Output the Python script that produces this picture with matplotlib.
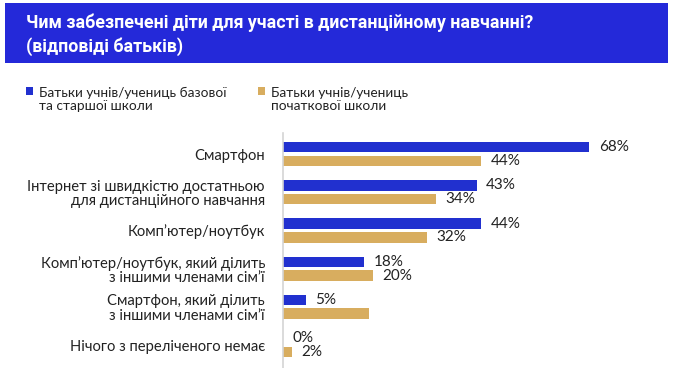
import matplotlib
matplotlib.use('Agg')
import matplotlib.pyplot as plt
from matplotlib.patches import Rectangle
import numpy as np

# data
categories = ['Смартфон',
              'Інтернет зі швидкістю достатньою\nдля дистанційного навчання',
              'Комп’ютер/ноутбук',
              'Комп’ютер/ноутбук, який ділить\nз іншими членами сім’ї',
              'Смартфон, який ділить\nз іншими членами сім’ї',
              'Нічого з переліченого немає']
senior = [68, 43, 44, 18, 5, 0]
primary = [44, 34, 32, 20, 19, 2]
senior_labels = ['68%', '43%', '44%', '18%', '5%', '0%']
primary_labels = ['44%', '34%', '32%', '20%', '', '2%']
series_names = ['Батьки учнів/учениць базової\nта старшої школи',
                'Батьки учнів/учениць\nпочаткової школи']
title_lines = ['Чим забезпечені діти для участі в дистанційному навчанні?',
               '(відповіді батьків)']

BLUE = '#2130CF'
BANNER = '#2429D9'
GOLD = '#D8AD5F'
TXT = '#222222'
W, H = 676, 368

plt.rcParams['font.family'] = ['Lato', 'DejaVu Sans']

fig = plt.figure(figsize=(W / 100, H / 100), dpi=100)

# title banner
fig.add_artist(Rectangle((5 / W, 1 - 63 / H), 663 / W, 60 / H, transform=fig.transFigure,
                         facecolor=BANNER, edgecolor='none'))
for i, line in enumerate(title_lines):
    fig.text(26 / W, 1 - (23 + 24 * i) / H, line, color='white', fontsize=12.8, fontweight='bold',
             family=['Liberation Sans Narrow', 'Roboto'], ha='left', va='center')

# legend drawn by hand
for x0, col, name in [(26, BLUE, series_names[0]), (258, GOLD, series_names[1])]:
    fig.add_artist(Rectangle((x0 / W, 1 - 95 / H), 7 / W, 8 / H, transform=fig.transFigure,
                             facecolor=col, edgecolor='none'))
    fig.text((x0 + 13) / W, 1 - 99.5 / H, name, fontsize=9.8, color=TXT, ha='left', va='center',
             linespacing=1.1)

# bars
ax = fig.add_axes([283 / W, 0, 367 / W, 235 / H])
y = np.arange(len(categories))
bh = 0.275
off = 0.18
ax.barh(y - off, senior, height=bh, color=BLUE)
ax.barh(y + off, primary, height=bh, color=GOLD)

for yi, v, lab in zip(y, senior, senior_labels):
    if lab:
        ax.annotate(lab, xy=(v, yi - off), xytext=(7, 0), textcoords='offset points',
                    ha='left', va='center', fontsize=11, color=TXT)
for yi, v, lab in zip(y, primary, primary_labels):
    if lab:
        ax.annotate(lab, xy=(v, yi + off), xytext=(7, 0), textcoords='offset points',
                    ha='left', va='center', fontsize=11, color=TXT)

ax.set_xlim(0, 367 / 4.5)
ax.set_ylim(5.6, -0.55)
ax.set_yticks(y)
ax.set_yticklabels(categories, fontsize=10.6, color=TXT)
for lbl in ax.get_yticklabels():
    lbl.set_linespacing(1.05)
ax.tick_params(axis='y', length=0, pad=13)
ax.set_xticks([])
for s in ['top', 'right', 'bottom']:
    ax.spines[s].set_visible(False)
ax.spines['left'].set_color('#d4d4d4')
ax.spines['left'].set_linewidth(1.2)

fig.savefig('out.png', dpi=100)
